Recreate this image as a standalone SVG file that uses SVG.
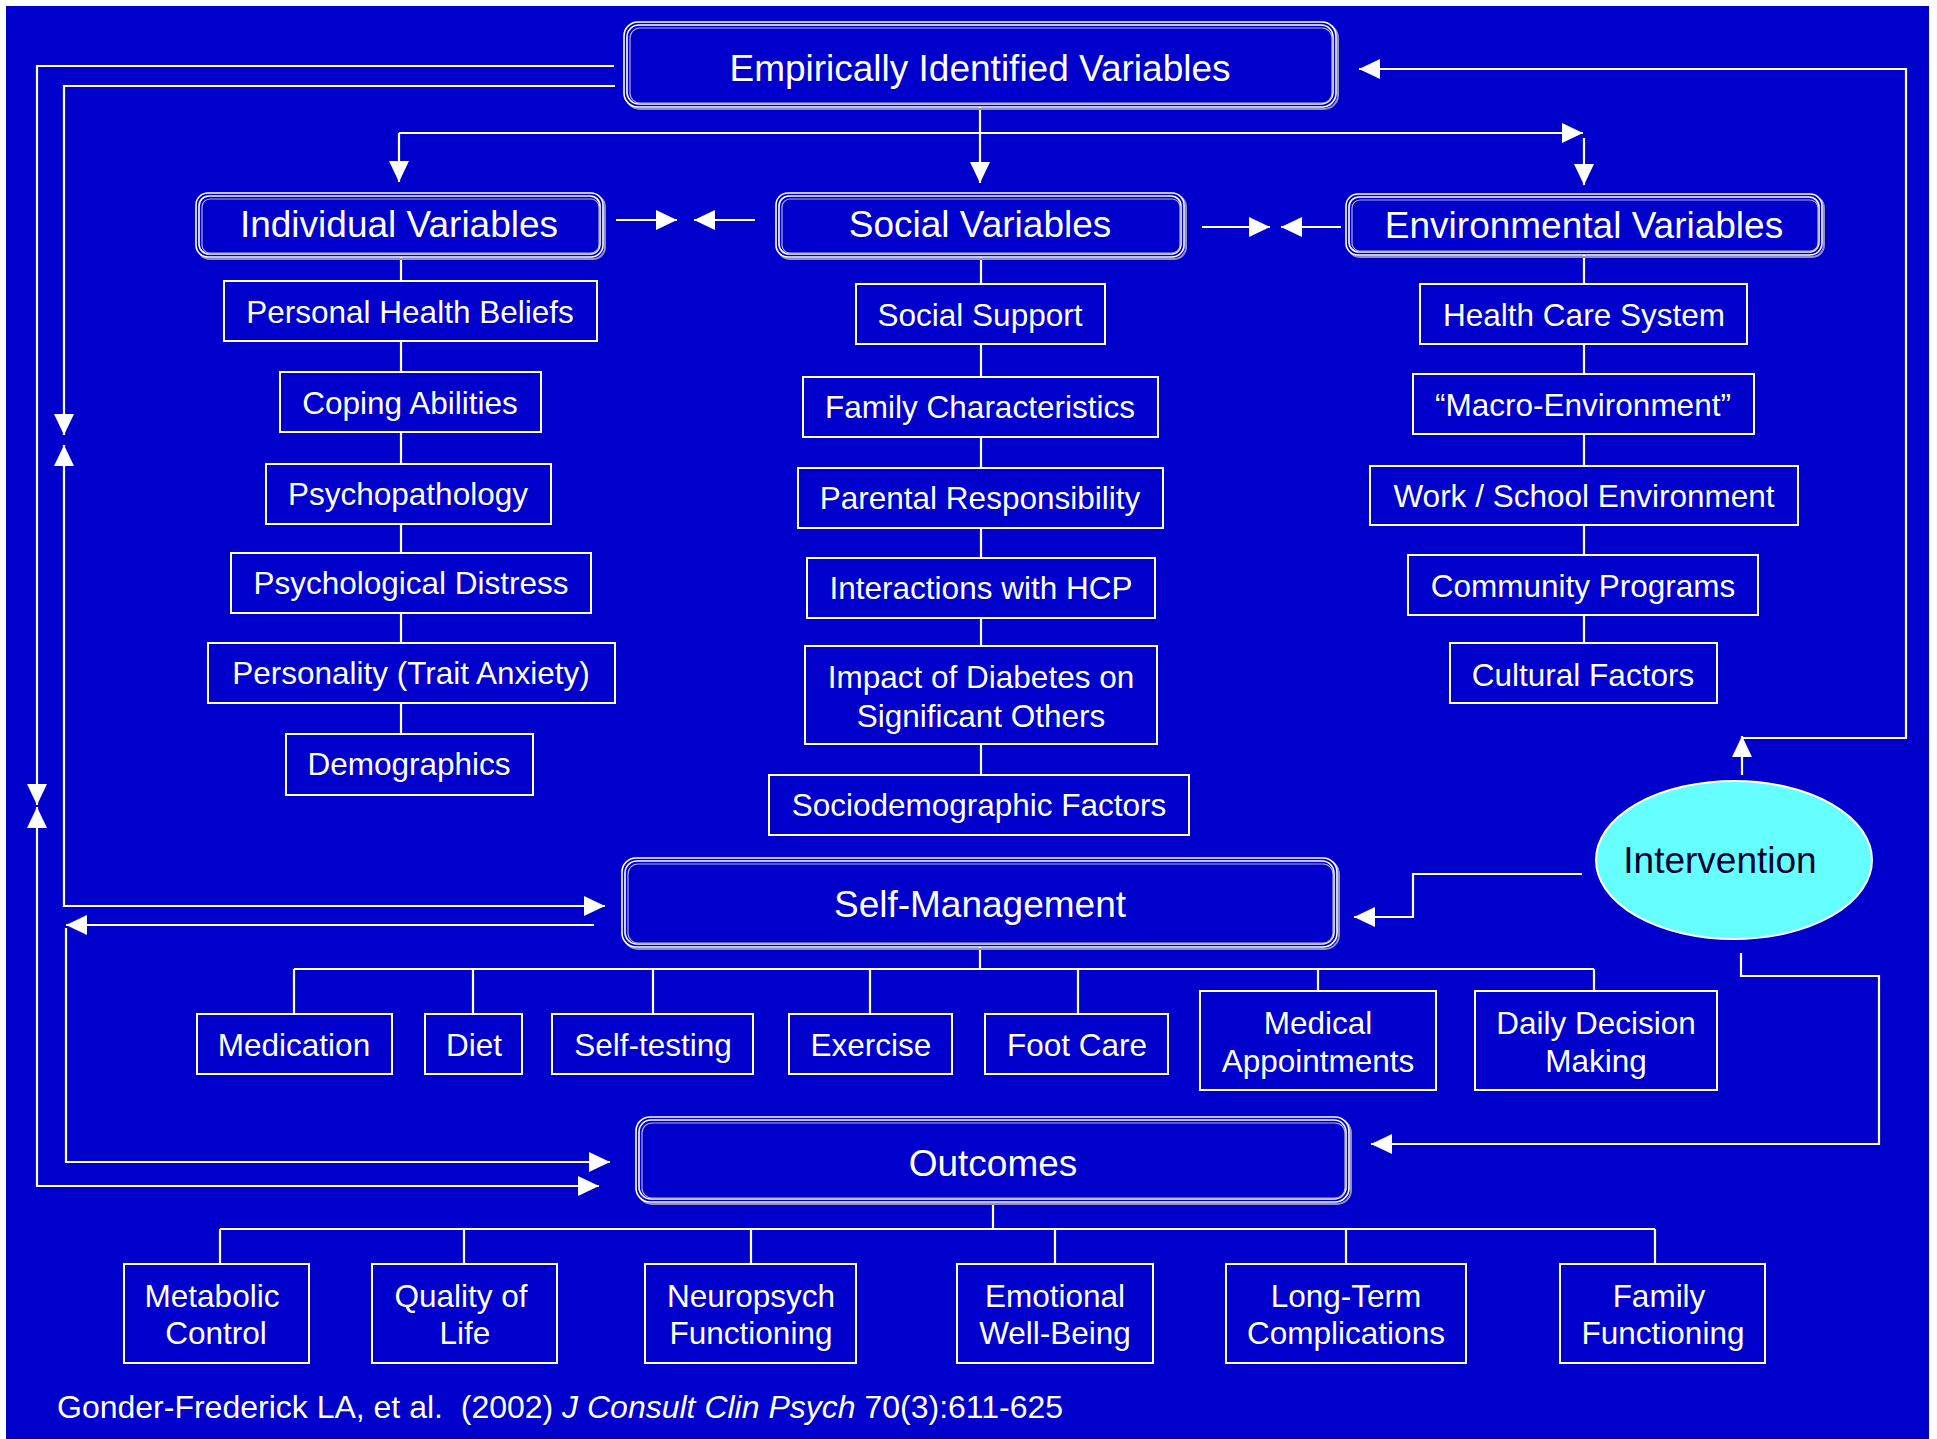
<svg xmlns="http://www.w3.org/2000/svg" width="1937" height="1439" viewBox="0 0 1937 1439">
<style>
.bg{fill:#0000CC}
.ln{fill:none;stroke:#fff;stroke-width:2.2}
.bx{fill:#0000CC;stroke:#fff;stroke-width:2}
.o1{fill:#0000CC;stroke:#fff;stroke-width:1.6}
.o2{fill:none;stroke:#fff;stroke-width:1.6}
.sh{fill:none;stroke:#9090c0;stroke-width:2}
.in{fill:none;stroke:#b0b0d8;stroke-width:1.2}
.h{font-family:"Liberation Sans",Arial,sans-serif;font-size:37px;fill:#fff;text-anchor:middle}
.t{font-family:"Liberation Sans",Arial,sans-serif;font-size:31.5px;fill:#fff;text-anchor:middle}
.cit{font-family:"Liberation Sans",Arial,sans-serif;font-size:32px;fill:#fff;white-space:pre}
</style>
<defs>
<marker id="ah" markerUnits="userSpaceOnUse" markerWidth="22" markerHeight="22" refX="21" refY="10" orient="auto-start-reverse" viewBox="0 0 22 20">
<path d="M0,0 L21,10 L0,20 Z" fill="#fff"/>
</marker>
</defs>
<rect class="bg" x="6" y="6" width="1923" height="1433"/>

<g id="connectors">
<!-- top distribution -->
<path class="ln" d="M980,107 V183" marker-end="url(#ah)"/>
<path class="ln" d="M399,133 H1583" marker-end="url(#ah)"/>
<path class="ln" d="M399,133 V182" marker-end="url(#ah)"/>
<path class="ln" d="M1584,138 V185" marker-end="url(#ah)"/>
<!-- between header boxes -->
<path class="ln" d="M616,220 H677" marker-end="url(#ah)"/>
<path class="ln" d="M755,220 H694" marker-end="url(#ah)"/>
<path class="ln" d="M1202,227 H1270" marker-end="url(#ah)"/>
<path class="ln" d="M1341,227 H1281" marker-end="url(#ah)"/>
<!-- column trunks -->
<path class="ln" d="M401,257 V734"/>
<path class="ln" d="M981,257 V775"/>
<path class="ln" d="M1584,255 V643"/>
<!-- right loop from intervention -->
<path class="ln" d="M1742,775 V736" marker-end="url(#ah)"/>
<path class="ln" d="M1742,738 H1906 V69 H1359" marker-end="url(#ah)"/>
<!-- left loops -->
<path class="ln" d="M614,66 H37 V805" marker-end="url(#ah)"/>
<path class="ln" d="M37,807 V1186 H599" marker-start="url(#ah)" marker-end="url(#ah)"/>
<path class="ln" d="M615,86 H64 V435" marker-end="url(#ah)"/>
<path class="ln" d="M64,445 V906 H605" marker-start="url(#ah)" marker-end="url(#ah)"/>
<path class="ln" d="M594,925 H66" marker-end="url(#ah)"/>
<path class="ln" d="M66,928 V1162 H610" marker-end="url(#ah)"/>
<!-- intervention to self-management and outcomes -->
<path class="ln" d="M1582,874 H1413 V917 H1354" marker-end="url(#ah)"/>
<path class="ln" d="M1741,953 V976 H1879 V1144 H1371" marker-end="url(#ah)"/>
<!-- self-management children -->
<path class="ln" d="M980,947 V969 M294,969 H1594 M294,969 V1014 M473,969 V1014 M653,969 V1014 M870,969 V1014 M1078,969 V1014 M1318,969 V991 M1594,969 V991"/>
<!-- outcomes children -->
<path class="ln" d="M993,1203 V1229 M220,1229 H1655 M220,1229 V1264 M464,1229 V1264 M751,1229 V1264 M1055,1229 V1264 M1346,1229 V1264 M1655,1229 V1264"/>
</g>

<g id="empirical">
<rect class="sh" x="626" y="24" width="712" height="85" rx="14"/>
<rect class="o1" x="624" y="22" width="712" height="85" rx="14"/>
<rect class="o2" x="627" y="25" width="706" height="79" rx="12"/>
<rect class="in" x="630" y="28" width="702" height="75" rx="10"/>
<text class="h" x="980" y="81">Empirically Identified Variables</text>
</g>
<g id="individual">
<rect class="sh" x="198" y="195" width="407" height="64" rx="12"/>
<rect class="o1" x="196" y="193" width="407" height="64" rx="12"/>
<rect class="o2" x="199" y="196" width="401" height="58" rx="10"/>
<rect class="in" x="202" y="199" width="397" height="54" rx="8"/>
<text class="h" x="399" y="237">Individual Variables</text>
</g>
<g id="social">
<rect class="sh" x="778" y="195" width="408" height="64" rx="12"/>
<rect class="o1" x="776" y="193" width="408" height="64" rx="12"/>
<rect class="o2" x="779" y="196" width="402" height="58" rx="10"/>
<rect class="in" x="782" y="199" width="398" height="54" rx="8"/>
<text class="h" x="980" y="237">Social Variables</text>
</g>
<g id="environmental">
<rect class="sh" x="1348" y="196" width="476" height="61" rx="12"/>
<rect class="o1" x="1346" y="194" width="476" height="61" rx="12"/>
<rect class="o2" x="1349" y="197" width="470" height="55" rx="10"/>
<rect class="in" x="1352" y="200" width="466" height="51" rx="8"/>
<text class="h" x="1584" y="238">Environmental Variables</text>
</g>

<g id="personal-health-beliefs"><rect class="bx" x="224" y="281" width="373" height="60"/><text class="t" x="410" y="323">Personal Health Beliefs</text></g>
<g id="coping-abilities"><rect class="bx" x="280" y="372" width="261" height="60"/><text class="t" x="410" y="414">Coping Abilities</text></g>
<g id="psychopathology"><rect class="bx" x="266" y="464" width="285" height="60"/><text class="t" x="408" y="505">Psychopathology</text></g>
<g id="psychological-distress"><rect class="bx" x="231" y="553" width="360" height="60"/><text class="t" x="411" y="594">Psychological Distress</text></g>
<g id="personality"><rect class="bx" x="208" y="643" width="407" height="60"/><text class="t" x="411" y="684">Personality (Trait Anxiety)</text></g>
<g id="demographics"><rect class="bx" x="286" y="734" width="247" height="61"/><text class="t" x="409" y="775">Demographics</text></g>

<g id="social-support"><rect class="bx" x="856" y="284" width="249" height="60"/><text class="t" x="980" y="326">Social Support</text></g>
<g id="family-characteristics"><rect class="bx" x="803" y="377" width="355" height="60"/><text class="t" x="980" y="418">Family Characteristics</text></g>
<g id="parental-responsibility"><rect class="bx" x="798" y="468" width="365" height="60"/><text class="t" x="980" y="509">Parental Responsibility</text></g>
<g id="interactions-hcp"><rect class="bx" x="807" y="558" width="348" height="60"/><text class="t" x="981" y="599">Interactions with HCP</text></g>
<g id="impact-diabetes"><rect class="bx" x="805" y="646" width="352" height="98"/><text class="t" x="981" y="688">Impact of Diabetes on</text><text class="t" x="981" y="727">Significant Others</text></g>
<g id="sociodemographic"><rect class="bx" x="769" y="775" width="420" height="60"/><text class="t" x="979" y="816">Sociodemographic Factors</text></g>

<g id="health-care-system"><rect class="bx" x="1420" y="284" width="327" height="60"/><text class="t" x="1584" y="326">Health Care System</text></g>
<g id="macro-environment"><rect class="bx" x="1413" y="374" width="341" height="60"/><text class="t" x="1583" y="416">“Macro-Environment”</text></g>
<g id="work-school"><rect class="bx" x="1370" y="466" width="428" height="59"/><text class="t" x="1584" y="507">Work / School Environment</text></g>
<g id="community-programs"><rect class="bx" x="1408" y="555" width="350" height="60"/><text class="t" x="1583" y="597">Community Programs</text></g>
<g id="cultural-factors"><rect class="bx" x="1450" y="643" width="267" height="60"/><text class="t" x="1583" y="686">Cultural Factors</text></g>

<g id="intervention">
<ellipse cx="1734" cy="860" rx="138" ry="79" fill="#66FFFF" stroke="#fff" stroke-width="2"/>
<text class="h" x="1720" y="873" style="fill:#000033">Intervention</text>
</g>

<g id="self-management">
<rect class="sh" x="624" y="860" width="715" height="89" rx="14"/>
<rect class="o1" x="622" y="858" width="715" height="89" rx="14"/>
<rect class="o2" x="625" y="861" width="709" height="83" rx="12"/>
<rect class="in" x="628" y="864" width="705" height="79" rx="10"/>
<text class="h" x="980" y="917">Self-Management</text>
</g>

<g id="medication"><rect class="bx" x="197" y="1014" width="195" height="60"/><text class="t" x="294" y="1056">Medication</text></g>
<g id="diet"><rect class="bx" x="425" y="1014" width="97" height="60"/><text class="t" x="474" y="1056">Diet</text></g>
<g id="self-testing"><rect class="bx" x="552" y="1014" width="201" height="60"/><text class="t" x="653" y="1056">Self-testing</text></g>
<g id="exercise"><rect class="bx" x="789" y="1014" width="163" height="60"/><text class="t" x="871" y="1056">Exercise</text></g>
<g id="foot-care"><rect class="bx" x="985" y="1014" width="183" height="60"/><text class="t" x="1077" y="1056">Foot Care</text></g>
<g id="medical-appointments"><rect class="bx" x="1200" y="991" width="236" height="99"/><text class="t" x="1318" y="1034">Medical</text><text class="t" x="1318" y="1072">Appointments</text></g>
<g id="daily-decision"><rect class="bx" x="1475" y="991" width="242" height="99"/><text class="t" x="1596" y="1034">Daily Decision</text><text class="t" x="1596" y="1072">Making</text></g>

<g id="outcomes">
<rect class="sh" x="638" y="1119" width="713" height="85" rx="14"/>
<rect class="o1" x="636" y="1117" width="713" height="85" rx="14"/>
<rect class="o2" x="639" y="1120" width="707" height="79" rx="12"/>
<rect class="in" x="642" y="1123" width="703" height="75" rx="10"/>
<text class="h" x="993" y="1176">Outcomes</text>
</g>

<g id="metabolic-control"><rect class="bx" x="124" y="1264" width="185" height="99"/><text class="t" x="212" y="1307">Metabolic</text><text class="t" x="216" y="1344">Control</text></g>
<g id="quality-of-life"><rect class="bx" x="372" y="1264" width="185" height="99"/><text class="t" x="461" y="1307">Quality of</text><text class="t" x="465" y="1344">Life</text></g>
<g id="neuropsych"><rect class="bx" x="645" y="1264" width="211" height="99"/><text class="t" x="751" y="1307">Neuropsych</text><text class="t" x="751" y="1344">Functioning</text></g>
<g id="emotional"><rect class="bx" x="957" y="1264" width="196" height="99"/><text class="t" x="1055" y="1307">Emotional</text><text class="t" x="1055" y="1344">Well-Being</text></g>
<g id="long-term"><rect class="bx" x="1226" y="1264" width="240" height="99"/><text class="t" x="1346" y="1307">Long-Term</text><text class="t" x="1346" y="1344">Complications</text></g>
<g id="family-functioning"><rect class="bx" x="1560" y="1264" width="205" height="99"/><text class="t" x="1659" y="1307">Family</text><text class="t" x="1663" y="1344">Functioning</text></g>

<text class="cit" x="57" y="1418">Gonder-Frederick LA, et al.  (2002) <tspan font-style="italic">J Consult Clin Psych</tspan> 70(3):611-625</text>
</svg>
